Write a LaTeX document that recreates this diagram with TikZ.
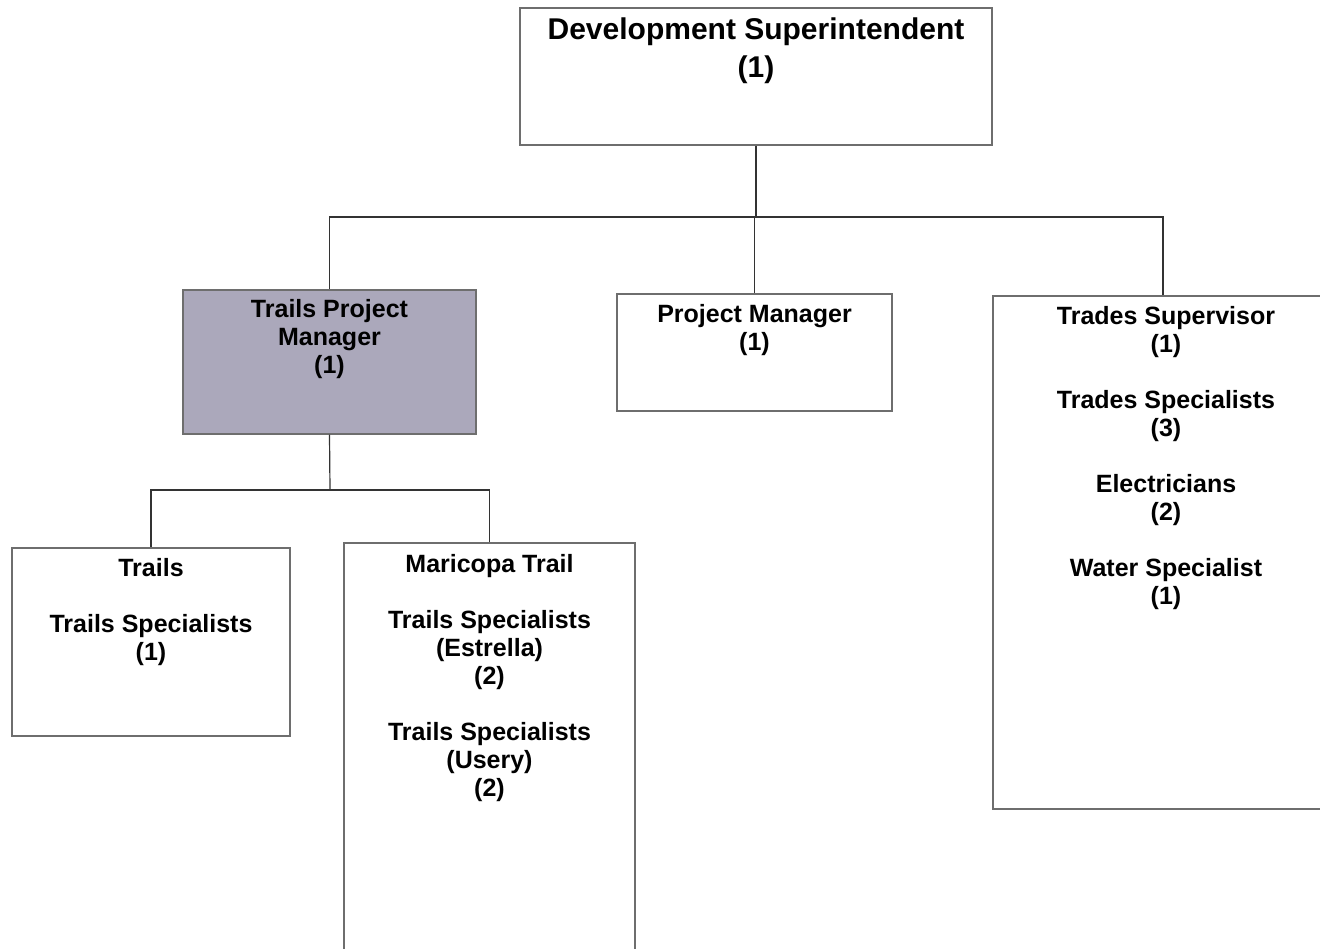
\documentclass[tikz,border=0pt]{standalone}
\usepackage{fontspec}
\setmainfont{Liberation Sans}
\usetikzlibrary{positioning}
\definecolor{boxline}{HTML}{6E6E6E}
\definecolor{wireline}{HTML}{333333}
\definecolor{leadfill}{HTML}{ABA8BB}
\begin{document}
\begin{tikzpicture}[x=1pt, y=-1pt,
		box/.style={draw=boxline, line width=1.2pt, fill=white, inner sep=0pt},
		lead/.style={box, fill=leadfill},
		lbl/.style={inner sep=0pt, align=center, font=\bfseries\fontsize{25}{28}\selectfont},
		toplbl/.style={lbl, font=\bfseries\fontsize{30}{38}\selectfont},
		wire/.style={draw=wireline, line width=1.2pt}]
		\useasboundingbox (0,0) rectangle (1320,948);
		\clip (0,0) rectangle (1320,948);
		% boxes
		\node[box, minimum width=472pt, minimum height=137pt] (super) at (756, 76.5) {};
		\node[lead, minimum width=293pt, minimum height=144pt] (tpm) at (329.5, 362) {};
		\node[box, minimum width=275pt, minimum height=117pt] (pm) at (754.5, 352.5) {};
		\node[box, minimum width=340pt, minimum height=513pt] (trades) at (1163, 552.5) {};
		\node[box, minimum width=278pt, minimum height=188pt] (trails) at (151, 642) {};
		\node[box, minimum width=291pt, minimum height=460pt] (maricopa) at (489.5, 773) {};
		% texts
		\node[toplbl, below=10pt of super.north] (superT) {Development Superintendent\\(1)};
		\node[lbl, below=10pt of tpm.north] (tpmT) {Trails Project\\Manager\\(1)};
		\node[lbl, below=11pt of pm.north] (pmT) {Project Manager\\(1)};
		\node[lbl, below=11pt of trades.north, xshift=3pt] (tradesT) {Trades Supervisor\\(1)\\[28pt]Trades Specialists\\(3)\\[28pt]Electricians\\(2)\\[28pt]Water Specialist\\(1)};
		\node[lbl, below=11pt of trails.north] (trailsT) {Trails\\[28pt]Trails Specialists\\(1)};
		\node[lbl, below=12pt of maricopa.north] (maricopaT) {Maricopa Trail\\[28pt]Trails Specialists\\(Estrella)\\(2)\\[28pt]Trails Specialists\\(Usery)\\(2)};
		% connectors
		\coordinate (bus) at (756, 217);
		\coordinate (subbus) at (330, 490);
		\draw[wire] (super.south) -- (bus);
		\draw[wire] (bus) -| (tpm.north);
		\draw[wire] (bus) -| (pm.north);
		\draw[wire] (bus) -| (trades.north);
		\draw[wire] (tpm.south) -- (subbus);
		\draw[wire] (subbus) -| (trails.north);
		\draw[wire] (subbus) -| (maricopa.north);
	\end{tikzpicture}
\end{document}
